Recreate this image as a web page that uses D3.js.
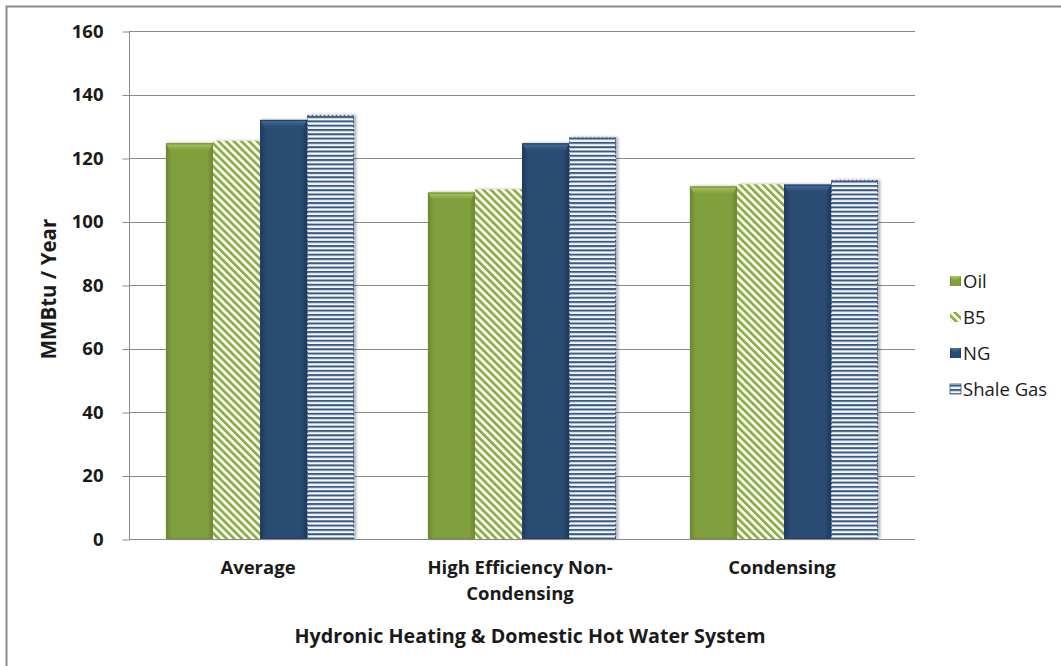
<!DOCTYPE html>
<html>
<head>
<meta charset="utf-8">
<script src="https://cdn.jsdelivr.net/npm/d3@7/dist/d3.min.js"></script>
<style>
  html, body { margin: 0; padding: 0; background: #ffffff; }
  svg { display: block; }
  text { font-family: "Open Sans", Lato, "Liberation Sans", sans-serif; fill: #1a1a1a; }
</style>
</head>
<body>
<svg id="chart" width="1061" height="666"></svg>
<script>
// Annual energy use by heating system and fuel
const categories = [["Average"], ["High Efficiency Non-", "Condensing"], ["Condensing"]];
const categoryKeys = ["Average", "High Efficiency Non-Condensing", "Condensing"];
const seriesNames = ["Oil", "B5", "NG", "Shale Gas"];
const oilValues = [124.6, 109.1, 111.0];
const b5Values = [125.4, 110.1, 111.7];
const ngValues = [132.0, 124.6, 111.6];
const shaleValues = [133.5, 126.5, 113.1];
const yTicks = [0, 20, 40, 60, 80, 100, 120, 140, 160];
const yTitle = "MMBtu / Year";
const xTitle = "Hydronic Heating & Domestic Hot Water System";

const seriesValues = [oilValues, b5Values, ngValues, shaleValues];

const svg = d3.select("#chart");
const margin = { left: 129, right: 146, top: 31, bottom: 127 };
const W = 1061, H = 666;
const plotW = W - margin.left - margin.right;
const plotH = H - margin.top - margin.bottom;

// Outer chart frame
svg.append("rect")
  .attr("x", 6.5).attr("y", 6.5)
  .attr("width", W + 10).attr("height", H + 10)
  .attr("fill", "#ffffff").attr("stroke", "#8c8c8c").attr("stroke-width", 2);

const defs = svg.append("defs");

// Bevelled solid fills
function bevelGradients(id, dark, mid, light) {
  const h = defs.append("linearGradient").attr("id", id + "-h")
    .attr("x1", "0").attr("x2", "1").attr("y1", "0").attr("y2", "0");
  h.append("stop").attr("offset", "0").attr("stop-color", dark);
  h.append("stop").attr("offset", "0.12").attr("stop-color", mid);
  h.append("stop").attr("offset", "0.88").attr("stop-color", mid);
  h.append("stop").attr("offset", "1").attr("stop-color", dark);
  const t = defs.append("linearGradient").attr("id", id + "-t")
    .attr("x1", "0").attr("x2", "0").attr("y1", "0").attr("y2", "1");
  t.append("stop").attr("offset", "0").attr("stop-color", light);
  t.append("stop").attr("offset", "1").attr("stop-color", mid);
}
bevelGradients("oil", "#6a8530", "#809f3c", "#a9c75d");
bevelGradients("ng", "#1d3656", "#294b72", "#4a6e9b");

// Diagonal green stripes for B5
const pB5 = defs.append("pattern").attr("id", "b5pat")
  .attr("patternUnits", "userSpaceOnUse").attr("width", 5.4).attr("height", 5.4)
  .attr("patternTransform", "rotate(-45)");
pB5.append("rect").attr("width", 5.4).attr("height", 5.4).attr("fill", "#f7fbea");
pB5.append("rect").attr("width", 2.5).attr("height", 5.4).attr("fill", "#86a843");

// Horizontal blue stripes for shale gas
const pSh = defs.append("pattern").attr("id", "shpat")
  .attr("patternUnits", "userSpaceOnUse").attr("width", 8).attr("height", 4.3);
pSh.append("rect").attr("width", 8).attr("height", 4.3).attr("fill", "#f4f7fb");
pSh.append("rect").attr("y", 0).attr("width", 8).attr("height", 2).attr("fill", "#3a5a82");

const shadow = defs.append("filter").attr("id", "shadow")
  .attr("x", "-20%").attr("y", "-10%").attr("width", "140%").attr("height", "120%");
shadow.append("feGaussianBlur").attr("in", "SourceAlpha").attr("stdDeviation", 1.5);
shadow.append("feOffset").attr("dx", 1.5).attr("dy", 0).attr("result", "b");
shadow.append("feComponentTransfer").append("feFuncA").attr("type", "linear").attr("slope", 0.35);
const fm = shadow.append("feMerge");
fm.append("feMergeNode");
fm.append("feMergeNode").attr("in", "SourceGraphic");

const x0 = d3.scaleBand().domain(categoryKeys)
  .range([margin.left, margin.left + plotW]).paddingInner(0).paddingOuter(0);
const groupW = x0.bandwidth() * 0.718;
const x1 = d3.scaleBand().domain(seriesNames)
  .range([(x0.bandwidth() - groupW) / 2, (x0.bandwidth() + groupW) / 2]).padding(0);
const y = d3.scaleLinear().domain([0, 160]).range([margin.top + plotH, margin.top]);

// Gridlines
svg.append("g").selectAll("line").data(yTicks.filter(d => d > 0)).join("line")
  .attr("x1", margin.left).attr("x2", margin.left + plotW)
  .attr("y1", d => Math.round(y(d)) + 0.5).attr("y2", d => Math.round(y(d)) + 0.5)
  .attr("stroke", "#8a8a8a").attr("stroke-width", 1);

// Y axis
const yAxis = d3.axisLeft(y).tickValues(yTicks).tickSize(7).tickPadding(19)
  .tickFormat(d3.format("d"));
const gy = svg.append("g").attr("transform", `translate(${margin.left + 0.5},0.5)`).call(yAxis);
gy.select(".domain").attr("stroke", "#8a8a8a").attr("d", `M0,${y(160)}V${y(0)}`);
gy.selectAll(".tick line").attr("stroke", "#8a8a8a");
gy.selectAll(".tick text").attr("font-size", 18.5).attr("font-weight", "bold")
  .attr("fill", "#1a1a1a").attr("font-family", "'Open Sans', sans-serif");

// Bars
const fills = ["oil", "b5", "ng", "shale"];
const groups = svg.append("g").selectAll("g").data(categoryKeys).join("g")
  .attr("transform", d => `translate(${x0(d)},0)`);

groups.each(function (cat, ci) {
  const g = d3.select(this);
  seriesNames.forEach((s, si) => {
    const v = seriesValues[si][ci];
    const bx = x1(s), bw = x1.bandwidth();
    const by = y(v), bh = y(0) - y(v);
    const kind = fills[si];
    const bar = g.append("g").attr("filter", "url(#shadow)");
    if (kind === "oil" || kind === "ng") {
      bar.append("rect").attr("x", bx).attr("y", by).attr("width", bw).attr("height", bh)
        .attr("fill", `url(#${kind}-h)`);
      const bev = 7;
      bar.append("path")
        .attr("d", `M${bx},${by}H${bx + bw}L${bx + bw - 4},${by + bev}H${bx + 4}Z`)
        .attr("fill", `url(#${kind}-t)`);
      bar.append("rect").attr("x", bx + 0.5).attr("y", by + 0.5).attr("width", bw - 1).attr("height", bh - 1)
        .attr("fill", "none").attr("stroke", kind === "oil" ? "#6f8b33" : "#203d60").attr("stroke-width", 1);
    } else if (kind === "b5") {
      bar.append("rect").attr("x", bx).attr("y", by).attr("width", bw).attr("height", bh)
        .attr("fill", "url(#b5pat)");
    } else {
      bar.append("rect").attr("x", bx).attr("y", by).attr("width", bw).attr("height", bh)
        .attr("fill", "url(#shpat)");
      bar.append("rect").attr("x", bx + 0.5).attr("y", by + 0.5).attr("width", bw - 1).attr("height", bh - 1)
        .attr("fill", "none").attr("stroke", "#3a5a82").attr("stroke-width", 1)
        .attr("stroke-dasharray", "2,2");
    }
  });
});

// X axis baseline
svg.append("line")
  .attr("x1", margin.left).attr("x2", margin.left + plotW)
  .attr("y1", Math.round(y(0)) + 0.5).attr("y2", Math.round(y(0)) + 0.5)
  .attr("stroke", "#8a8a8a").attr("stroke-width", 1.2);

// Category labels
const catLabels = svg.append("g");
categories.forEach((lines, i) => {
  const cx = x0(categoryKeys[i]) + x0.bandwidth() / 2 - 2;
  const t = catLabels.append("text")
    .attr("x", cx).attr("y", 574).attr("text-anchor", "middle")
    .attr("font-size", 18.5).attr("font-weight", "bold");
  lines.forEach((ln, li) => {
    t.append("tspan").attr("x", cx).attr("dy", li === 0 ? 0 : 26).text(ln);
  });
});

// Axis titles
svg.append("text")
  .attr("x", margin.left + plotW / 2 + 8).attr("y", 643)
  .attr("text-anchor", "middle").attr("font-size", 19.7).attr("font-weight", "bold")
  .text(xTitle);
svg.append("text")
  .attr("transform", `translate(56,${margin.top + plotH / 2 + 4}) rotate(-90)`)
  .attr("text-anchor", "middle").attr("font-size", 20.5).attr("font-weight", "bold")
  .text(yTitle);

// Legend
const legend = svg.append("g").attr("transform", "translate(950,281)");
seriesNames.forEach((s, i) => {
  const lg = legend.append("g").attr("transform", `translate(0,${i * 36})`);
  const kind = fills[i];
  if (kind === "oil" || kind === "ng") {
    lg.append("rect").attr("x", 0).attr("y", -5).attr("width", 11).attr("height", 10)
      .attr("fill", `url(#${kind}-h)`);
    lg.append("path").attr("d", "M0,-5H11L7,0H4Z").attr("fill", `url(#${kind}-t)`);
  } else {
    lg.append("rect").attr("x", 0).attr("y", -5).attr("width", 11).attr("height", 10)
      .attr("fill", kind === "b5" ? "url(#b5pat)" : "url(#shpat)")
      .attr("stroke", kind === "b5" ? "none" : "#3a5a82").attr("stroke-width", 0.8);
  }
  lg.append("text").attr("x", 13).attr("y", 0).attr("dy", "0.36em")
    .attr("font-size", 18.5).text(s);
});
</script>
</body>
</html>
